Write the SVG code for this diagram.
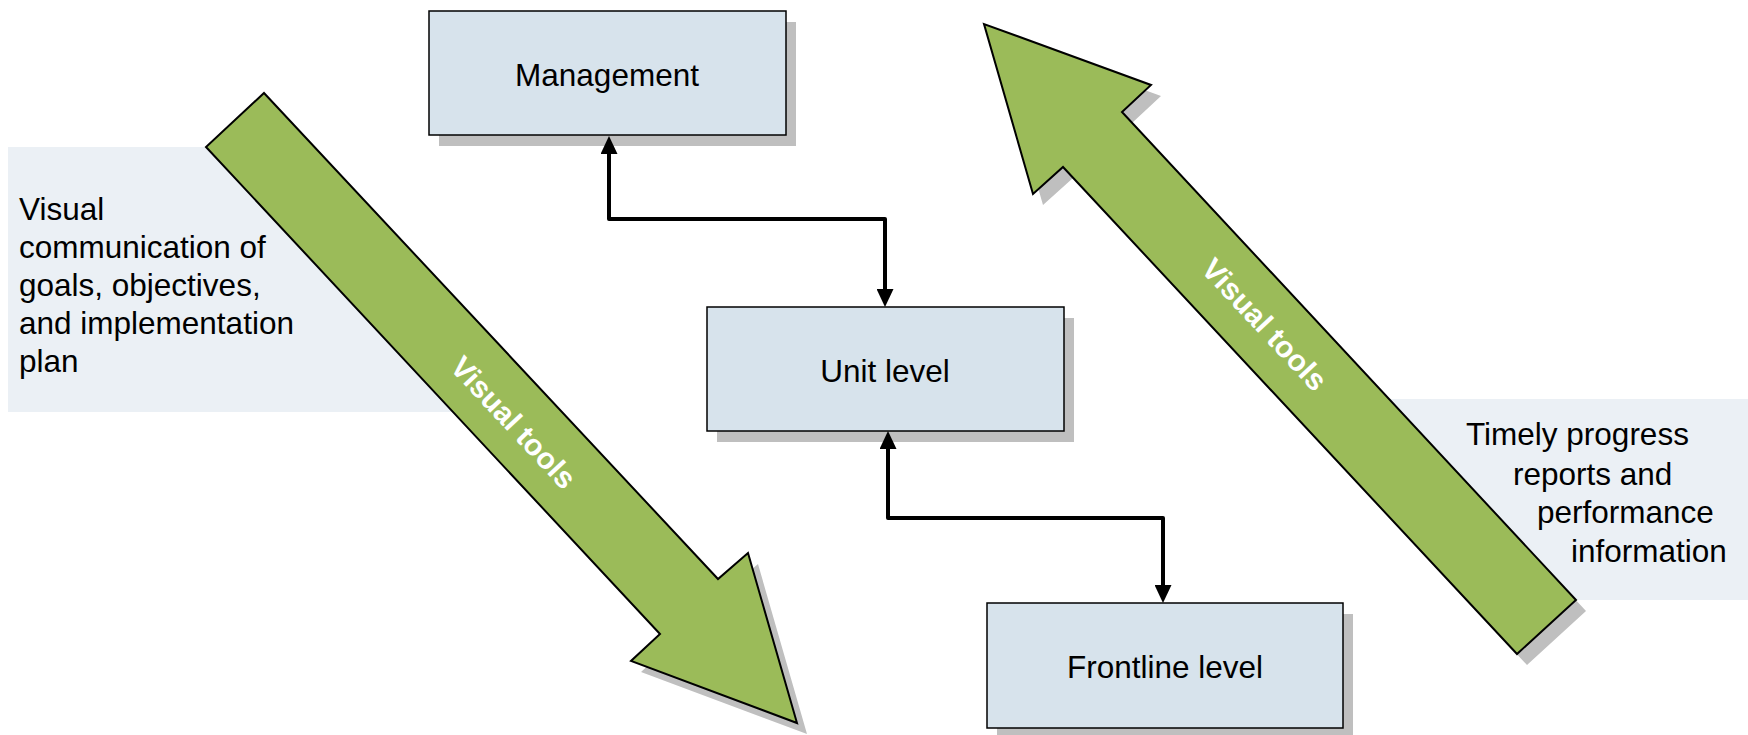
<svg xmlns="http://www.w3.org/2000/svg" width="1748" height="735" viewBox="0 0 1748 735">
<style>
.panel{fill:#EBF0F5;stroke:none}
.ptxt{font-family:"Liberation Sans",Arial,sans-serif;font-size:31.5px;fill:#000}
.shadow{fill:#BFBFBF;stroke:none}
.garrow{fill:#9BBB59;stroke:#000;stroke-width:2;stroke-linejoin:miter}
.gtxt{font-family:"Liberation Sans",Arial,sans-serif;font-size:30px;font-weight:bold;fill:#fff;text-anchor:middle}
.box{fill:#D7E3EC;stroke:#000;stroke-width:1.5}
.btxt{font-family:"Liberation Sans",Arial,sans-serif;font-size:31.5px;fill:#000;text-anchor:middle}
.conn{fill:none;stroke:#000;stroke-width:4;stroke-linejoin:round}
</style>
<defs>
<marker id="ah" viewBox="0 0 18 17" markerUnits="userSpaceOnUse" markerWidth="18" markerHeight="17" refX="0" refY="8.5" orient="auto-start-reverse">
<path d="M0,0 L18,8.5 L0,17 z" fill="#000"/>
</marker>
</defs>
<rect width="1748" height="735" fill="#fff"/>

<g id="panel-left">
<polygon class="panel" points="8,147 210,147 458,412 8,412"/>
<text class="ptxt" x="19" y="220">Visual</text>
<text class="ptxt" x="19" y="258">communication of</text>
<text class="ptxt" x="19" y="296">goals, objectives,</text>
<text class="ptxt" x="19" y="334">and implementation</text>
<text class="ptxt" x="19" y="372">plan</text>
</g>

<g id="panel-right">
<polygon class="panel" points="1385,399 1748,399 1748,600 1572,600"/>
<text class="ptxt" x="1466" y="445">Timely progress</text>
<text class="ptxt" x="1513" y="485">reports and</text>
<text class="ptxt" x="1537" y="523">performance</text>
<text class="ptxt" x="1571" y="562">information</text>
</g>

<g id="arrow-down">
<polygon class="shadow" transform="translate(10,11)" points="264,93 718,579 748,553 797,723 631,661 660,634 206,147"/>
<polygon class="garrow" points="264,93 718,579 748,553 797,723 631,661 660,634 206,147"/>
<text class="gtxt" x="514" y="433" transform="rotate(47 514 422)">Visual tools</text>
</g>

<g id="arrow-up">
<polygon class="shadow" transform="translate(10,11)" points="1517,654 1063,167 1033,194 984,24 1151,85 1122,112 1576,600"/>
<polygon class="garrow" points="1517,654 1063,167 1033,194 984,24 1151,85 1122,112 1576,600"/>
<text class="gtxt" x="1265" y="335" transform="rotate(47 1265 324)">Visual tools</text>
</g>

<g id="management">
<rect class="shadow" x="439" y="22" width="357" height="124"/>
<rect class="box" x="429" y="11" width="357" height="124"/>
<text class="btxt" x="607" y="86">Management</text>
</g>

<g id="unit-level">
<rect class="shadow" x="717" y="318" width="357" height="124"/>
<rect class="box" x="707" y="307" width="357" height="124"/>
<text class="btxt" x="885" y="382">Unit level</text>
</g>

<g id="frontline-level">
<rect class="shadow" x="997" y="614" width="356" height="125"/>
<rect class="box" x="987" y="603" width="356" height="125"/>
<text class="btxt" x="1165" y="678">Frontline level</text>
</g>

<g id="connectors">
<path class="conn" d="M609,154 L609,219 L885,219 L885,289" marker-start="url(#ah)" marker-end="url(#ah)"/>
<path class="conn" d="M888,449 L888,518 L1163,518 L1163,585" marker-start="url(#ah)" marker-end="url(#ah)"/>
</g>
</svg>
